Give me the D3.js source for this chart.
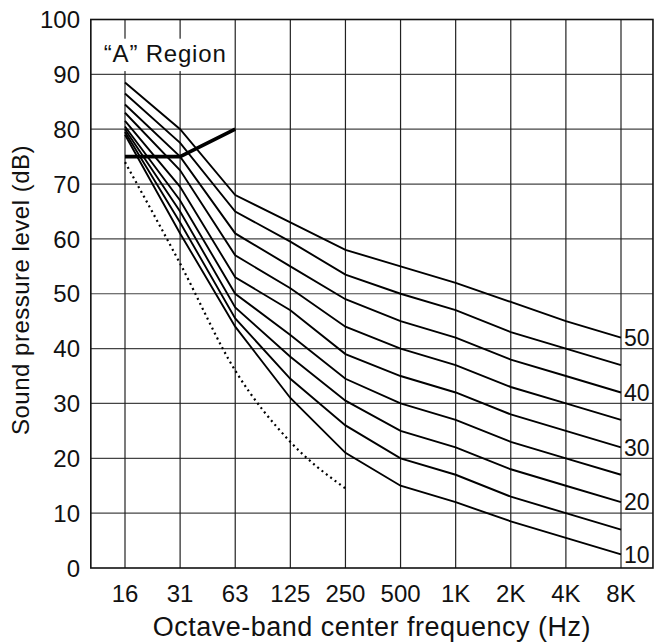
<!DOCTYPE html>
<html>
<head>
<meta charset="utf-8">
<script src="https://cdn.jsdelivr.net/npm/d3@7"></script>
<style>
  body { margin: 0; background: #fff; }
  text { font-family: "Liberation Sans", Arial, sans-serif; fill: #111; }
</style>
</head>
<body>
<svg width="655" height="643"></svg>
<script>
var freqs = ["16", "31", "63", "125", "250", "500", "1K", "2K", "4K", "8K"];
var yTicks = [0, 10, 20, 30, 40, 50, 60, 70, 80, 90, 100];

// NCB curves, one row per curve, values in dB per octave band
var curveNames = [10, 15, 20, 25, 30, 35, 40, 45, 50];
var curveValues = [
    [79, 61, 44, 31, 21, 15, 12, 8.5, 5.5, 2.5],
    [79.5, 63, 45.5, 34.5, 26, 20, 17, 13, 10, 7],
    [80, 65, 47.5, 38.5, 30.5, 25, 22, 18, 15, 12],
    [80.5, 67, 50, 42.5, 34.5, 30, 27, 23, 20, 17],
    [81.5, 69.5, 53, 47, 39, 35, 32, 28, 25, 22],
    [83, 72.5, 57, 51, 44, 40, 37, 33, 30, 27],
    [84.5, 75, 61, 55, 49, 45, 42, 38, 35, 32],
    [86.5, 77.5, 65, 59.5, 53.5, 50, 47, 43, 40, 37],
    [88.5, 80, 68, 63, 58, 55, 52, 48.5, 45, 42]
];
var labelledCurves = [10, 20, 30, 40, 50];

// threshold of hearing (dotted), 16 Hz .. 250 Hz
var thresholdValues = [74, 55.5, 36, 23, 14.5];

// "A" region boundary, 16 .. 63 Hz
var regionAValues = [75, 75, 80];

var svg = d3.select("svg");

var x = d3.scalePoint()
    .domain(freqs)
    .range([125, 621]);

var y = d3.scaleLinear()
    .domain([0, 100])
    .range([568, 19.5]);

var left = x("16") - x.step() * 0.62,
    right = x("8K") + x.step() * 0.58;

var line = d3.line()
    .x((d, i) => x(freqs[i]))
    .y(d => y(d));

// grid
svg.append("g")
    .selectAll("line")
    .data(yTicks.slice(1, -1))
    .enter().append("line")
    .attr("x1", left).attr("x2", right)
    .attr("y1", d => y(d)).attr("y2", d => y(d))
    .attr("stroke", "#444")
    .attr("stroke-width", 1.2);

svg.append("g")
    .selectAll("line")
    .data(freqs)
    .enter().append("line")
    .attr("x1", d => x(d)).attr("x2", d => x(d))
    .attr("y1", y(0)).attr("y2", y(100))
    .attr("stroke", "#222")
    .attr("stroke-width", 1.2);

// label box for "A" Region hides the grid behind it
svg.append("rect")
    .attr("x", left + 2)
    .attr("y", y(96.5))
    .attr("width", x("63") - left - 4)
    .attr("height", y(90.6) - y(96.5))
    .attr("fill", "#fff");

svg.append("text")
    .attr("x", left + 13)
    .attr("y", y(92.3))
    .attr("font-size", 24)
    .attr("letter-spacing", 0.8)
    .text("\u201cA\u201d Region");

// frame
svg.append("rect")
    .attr("x", left)
    .attr("y", y(100))
    .attr("width", right - left)
    .attr("height", y(0) - y(100))
    .attr("fill", "none")
    .attr("stroke", "#111")
    .attr("stroke-width", 1.6);

// curves
svg.append("g")
    .selectAll("path")
    .data(curveValues)
    .enter().append("path")
    .attr("d", line)
    .attr("fill", "none")
    .attr("stroke", "#000")
    .attr("stroke-width", 1.9);

svg.append("path")
    .datum(thresholdValues)
    .attr("d", line.curve(d3.curveMonotoneX))
    .attr("fill", "none")
    .attr("stroke", "#000")
    .attr("stroke-width", 2.2)
    .attr("stroke-dasharray", "2,3.5");

line.curve(d3.curveLinear);

svg.append("path")
    .datum(regionAValues)
    .attr("d", line)
    .attr("fill", "none")
    .attr("stroke", "#000")
    .attr("stroke-width", 3.6);

// curve labels at the right
svg.append("g")
    .selectAll("text")
    .data(labelledCurves)
    .enter().append("text")
    .attr("x", x("8K") + 3)
    .attr("y", d => y(curveValues[curveNames.indexOf(d)][freqs.length - 1]))
    .attr("dy", "0.36em")
    .attr("font-size", 23)
    .text(d => d);

// y tick labels
svg.append("g")
    .selectAll("text")
    .data(yTicks)
    .enter().append("text")
    .attr("x", 80)
    .attr("y", d => y(d))
    .attr("dy", "0.36em")
    .attr("text-anchor", "end")
    .attr("font-size", 24)
    .text(d => d);

// x tick labels
svg.append("g")
    .selectAll("text")
    .data(freqs)
    .enter().append("text")
    .attr("x", d => x(d))
    .attr("y", 602)
    .attr("text-anchor", "middle")
    .attr("font-size", 24)
    .text(d => d);

svg.append("text")
    .attr("x", (left + right) / 2)
    .attr("y", 636)
    .attr("text-anchor", "middle")
    .attr("font-size", 27)
    .attr("letter-spacing", 0.5)
    .text("Octave-band center frequency (Hz)");

svg.append("text")
    .attr("transform", "translate(29,290) rotate(-90)")
    .attr("text-anchor", "middle")
    .attr("font-size", 24)
    .attr("letter-spacing", 0.5)
    .text("Sound pressure level (dB)");
</script>
</body>
</html>
